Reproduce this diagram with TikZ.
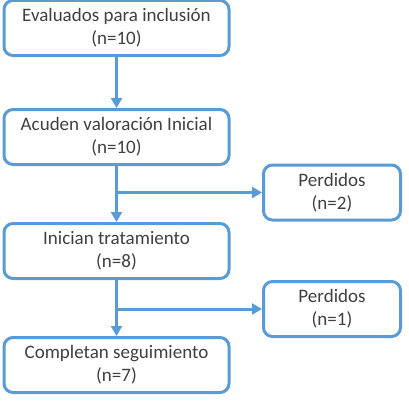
\documentclass[tikz,border=0pt]{standalone}
\usepackage{fontspec}
\setmainfont{Carlito}
\usetikzlibrary{arrows.meta}
\definecolor{flowblue}{RGB}{91,155,213}
\definecolor{flowtext}{RGB}{64,64,64}
\tikzset{
  stage/.style={draw=flowblue, line width=3pt, rounded corners=9pt, fill=white,
    minimum width=225pt, minimum height=55pt, align=center, text=flowtext,
    inner sep=2pt, font=\fontsize{19}{23}\selectfont},
  lost/.style={stage, minimum width=137pt},
  flow/.style={draw=flowblue, line width=3pt, -{Triangle[length=10pt,width=11pt]}}
}
\begin{document}
\begin{tikzpicture}[x=1pt,y=1pt]
\useasboundingbox (0,0) rectangle (409,400);
\node[stage] (eval) at (116.5,372) {Evaluados para inclusión\\(n=10)};
\node[stage] (acud) at (116.5,263) {Acuden valoración Inicial\\(n=10)};
\node[stage] (inic) at (116.5,149) {Inician tratamiento\\(n=8)};
\node[stage] (comp) at (116.5,35) {Completan seguimiento\\(n=7)};
\node[lost] (lost1) at (332,207.5) {Perdidos\\(n=2)};
\node[lost] (lost2) at (332,91) {Perdidos\\(n=1)};
\coordinate (b1) at (116.5,207.5);
\coordinate (b2) at (116.5,91);
\draw[flow] (eval) -- (acud);
\draw[flow] (acud) -- (inic);
\draw[flow] (b1) -- (lost1);
\draw[flow] (inic) -- (comp);
\draw[flow] (b2) -- (lost2);
\end{tikzpicture}
\end{document}
